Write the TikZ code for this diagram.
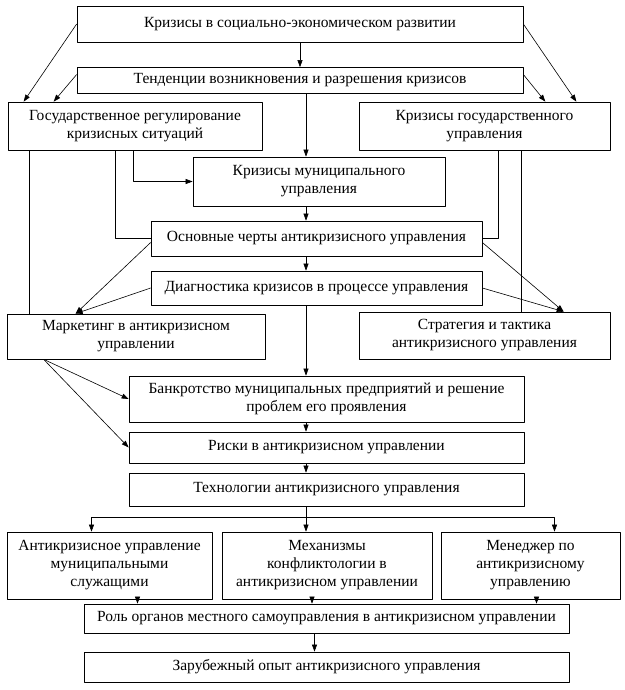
\documentclass[tikz,border=0pt]{standalone}
\usepackage{fontspec}
\setmainfont{Liberation Serif}
\usetikzlibrary{arrows.meta}
\begin{document}
\begin{tikzpicture}[x=1pt, y=-1pt, font=\fontsize{15.5}{18}\selectfont, line join=round,
		>={Stealth[length=7pt,width=5pt,inset=0pt]},
		blk/.style={draw, line width=.7pt, align=center, inner sep=0pt},
		con/.style={line width=.6pt}]
	\useasboundingbox (0,0) rectangle (624,690);
	% blocks
	\node[blk, minimum width=446, minimum height=36] (kr) at (300,24) {Кризисы в социально-экономическом развитии};
	\node[blk, minimum width=446, minimum height=26] (ten) at (300,80.5) {Тенденции возникновения и разрешения кризисов};
	\node[blk, minimum width=254, minimum height=48] (gosreg) at (135,126) {Государственное регулирование\\кризисных ситуаций};
	\node[blk, minimum width=251, minimum height=48] (krgos) at (484.5,126) {Кризисы государственного\\управления};
	\node[blk, minimum width=252, minimum height=49] (krmun) at (319,181.5) {Кризисы муниципального\\управления};
	\node[blk, minimum width=331, minimum height=35] (osn) at (316.5,238.5) {Основные черты антикризисного управления};
	\node[blk, minimum width=331, minimum height=34] (diag) at (316.5,288) {Диагностика кризисов в процессе управления};
	\node[blk, minimum width=258, minimum height=45] (mark) at (136,336.5) {Маркетинг в антикризисном\\управлении};
	\node[blk, minimum width=251, minimum height=47] (strat) at (484.5,335.5) {Стратегия и тактика\\антикризисного управления};
	\node[blk, minimum width=395, minimum height=46] (bank) at (326.5,399) {Банкротство муниципальных предприятий и решение\\проблем его проявления};
	\node[blk, minimum width=395, minimum height=31] (risk) at (326.5,447.5) {Риски в антикризисном управлении};
	\node[blk, minimum width=395, minimum height=33] (tech) at (326.5,489.5) {Технологии антикризисного управления};
	\node[blk, minimum width=205, minimum height=67] (akms) at (109.5,565.5) {Антикризисное управление\\муниципальными\\служащими};
	\node[blk, minimum width=210, minimum height=67] (meh) at (327,565.5) {Механизмы\\конфликтологии в\\антикризисном управлении};
	\node[blk, minimum width=179, minimum height=67] (men) at (530.5,565.5) {Менеджер по\\антикризисному\\управлению};
	\node[blk, minimum width=485, minimum height=29] (rol) at (326.5,618.5) {Роль органов местного самоуправления в антикризисном управлении};
	\node[blk, minimum width=485, minimum height=30] (zar) at (326.5,667) {Зарубежный опыт антикризисного управления};
	% axis and branch point
	\coordinate (ax) at (306,0);
	\coordinate (br) at (306,517);
	% top
	\draw[con,->] (kr) -- (ten);
	\draw[con,->] (kr.west) -- ([xshift=16pt]gosreg.north west);
	\draw[con,->] ([yshift=6pt]ten.west) -- ([xshift=46pt]gosreg.north west);
	\draw[con,->] (kr.east) -- ([xshift=-34pt]krgos.north east);
	\draw[con,->] ([yshift=6pt]ten.east) -- ([xshift=-65pt]krgos.north east);
	\draw[con,->] (ax |- ten.south) -- (ax |- krmun.north);
	% from the two upper side blocks
	\draw[con,->] ([xshift=-2pt]gosreg.south) |- (krmun.west);
	\draw[con] ([xshift=-20pt]gosreg.south) |- (osn.west);
	\draw[con] ([xshift=22pt]gosreg.south west) -- ([xshift=22pt]gosreg.south west |- mark.north);
	\draw[con] ([xshift=14pt]krgos.south) |- (osn.east);
	\draw[con] ([xshift=37pt]krgos.south) -- ([xshift=37pt]krgos.south |- strat.north);
	% middle
	\draw[con,->] (ax |- krmun.south) -- (ax |- osn.north);
	\draw[con,->] (ax |- osn.south) -- (ax |- diag.north);
	\draw[con,->] ([yshift=-4pt]osn.west) -- ([xshift=69pt]mark.north west);
	\draw[con,->] (diag.west) -- ([xshift=69pt]mark.north west);
	\draw[con,->] ([yshift=-4pt]osn.east) -- ([xshift=205pt]strat.north west);
	\draw[con,->] (diag.east) -- ([xshift=205pt]strat.north west);
	\draw[con,->] (ax |- diag.south) -- (ax |- bank.north);
	\draw[con,->] ([xshift=37pt]mark.south west) -- (bank.west);
	\draw[con,->] ([xshift=37pt]mark.south west) -- (risk.west);
	\draw[con,->] (ax |- bank.south) -- (ax |- risk.north);
	\draw[con,->] (ax |- risk.south) -- (ax |- tech.north);
	% bottom
	\draw[con] (ax |- tech.south) -- (br);
	\draw[con,->] (br) -| ([xshift=-18pt]akms.north);
	\draw[con,->] (br) -| ([xshift=24pt]men.north);
	\draw[con,->] (br) -- (br |- meh.north);
	\draw[con,->] ([xshift=28pt]akms.south) -- ([xshift=28pt]akms.south |- rol.north);
	\draw[con,->] ([xshift=-15pt]meh.south) -- ([xshift=-15pt]meh.south |- rol.north);
	\draw[con,->] ([xshift=6pt]men.south) -- ([xshift=6pt]men.south |- rol.north);
	\draw[con,->] ([xshift=-12pt]rol.south) -- ([xshift=-12pt]rol.south |- zar.north);
\end{tikzpicture}
\end{document}
